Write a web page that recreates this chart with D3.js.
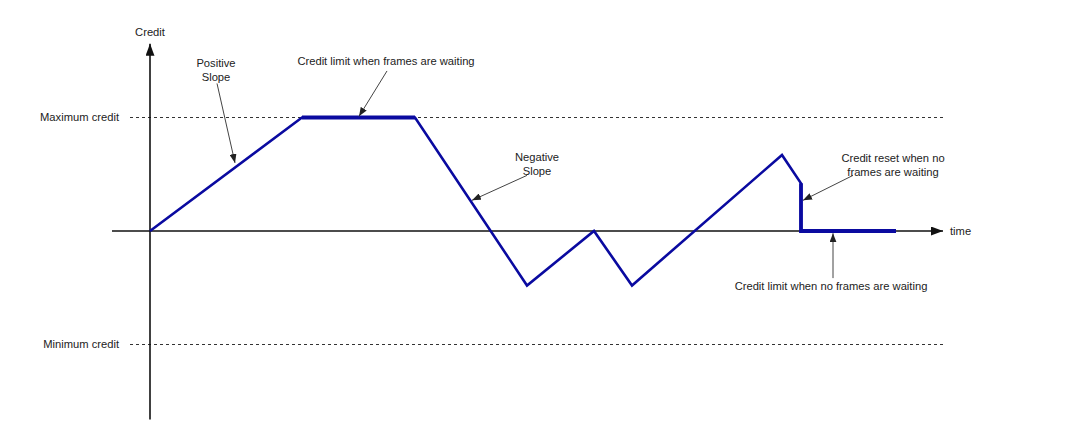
<!DOCTYPE html>
<html><head><meta charset="utf-8">
<script src="https://cdn.jsdelivr.net/npm/d3@7"></script>
<style>
html,body{margin:0;padding:0;background:#fff;}
text{font-family:"Liberation Sans",Arial,sans-serif;font-size:11.2px;fill:#222;}
</style></head>
<body>
<svg id="chart" width="1080" height="433"></svg>
<script>
// ---- data ----
const timePoints   = [0, 152, 265, 377, 444, 482, 632, 651, 651, 746];
const creditPoints = [0, 1, 1, -0.48, 0, -0.48, 0.67, 0.42, 0, 0];
// segments drawn thicker (index ranges into the points)
const thickSegments = [[1, 2], [7, 9]];
const levelValues = [1, -1];
const levelLabels = ["Maximum credit", "Minimum credit"];
const axisLabels = ["Credit", "time"];
const annotationTexts = [
  ["Positive", "Slope"],
  ["Credit limit when frames are waiting"],
  ["Negative", "Slope"],
  ["Credit reset when no", "frames are waiting"],
  ["Credit limit when no frames are waiting"]
];
// text centre [t, credit], arrow start [t, credit], arrow tip [t, credit]
const annotationText  = [[66, 1.418], [236, 1.498], [387, 0.586], [743, 0.581], [681, -0.485]];
const annotationFrom  = [[67, 1.30], [237, 1.41], [377, 0.49], [703, 0.49], [683, -0.415]];
const annotationTo    = [[85, 0.60], [209, 1.01], [322, 0.27], [653, 0.27], [683, -0.02]];

// ---- scales ----
const x = d3.scaleLinear().domain([0, 800]).range([150, 950]);
const y = d3.scaleLinear().domain([-1, 1]).range([344.5, 117.5]);

const svg = d3.select("#chart");
const defs = svg.append("defs");
function marker(id, w, h, color) {
  defs.append("marker").attr("id", id)
    .attr("viewBox", `0 0 ${w} ${h}`).attr("refX", w).attr("refY", h / 2)
    .attr("markerWidth", w).attr("markerHeight", h)
    .attr("markerUnits", "userSpaceOnUse").attr("orient", "auto")
    .append("path").attr("d", `M0,0L${w},${h/2}L0,${h}Z`).attr("fill", color);
}
marker("axisArrow", 12, 9, "#111");
marker("noteArrow", 9, 7, "#222");

// dashed level lines
levelValues.forEach((v, i) => {
  svg.append("line").attr("x1", x(-20)).attr("x2", x(793))
    .attr("y1", y(v)).attr("y2", y(v))
    .attr("stroke", "#333").attr("stroke-width", 1).attr("stroke-dasharray", "3,3");
  svg.append("text").attr("x", x(-31)).attr("y", y(v)).attr("dy", "0.35em")
    .attr("text-anchor", "end").text(levelLabels[i]);
});

// axes
svg.append("line").attr("x1", x(-38)).attr("x2", x(793)).attr("y1", y(0)).attr("y2", y(0))
  .attr("stroke", "#111").attr("stroke-width", 1.6).attr("marker-end", "url(#axisArrow)");
svg.append("line").attr("x1", x(0)).attr("x2", x(0)).attr("y1", y(-1.66)).attr("y2", y(1.65))
  .attr("stroke", "#111").attr("stroke-width", 1.6).attr("marker-end", "url(#axisArrow)");
svg.append("text").attr("x", x(0)).attr("y", y(1.753)).attr("dy", "0.35em")
  .attr("text-anchor", "middle").text(axisLabels[0]);
svg.append("text").attr("x", x(800)).attr("y", y(0)).attr("dy", "0.35em").text(axisLabels[1]);

// credit line
const pts = timePoints.map((t, i) => [t, creditPoints[i]]);
const line = d3.line().x(d => x(d[0])).y(d => y(d[1]));
svg.append("path").datum(pts).attr("d", line)
  .attr("fill", "none").attr("stroke", "#0a0aa0").attr("stroke-width", 2.6)
  .attr("stroke-linejoin", "miter");
thickSegments.forEach(([a, b]) => {
  svg.append("path").datum(pts.slice(a, b + 1)).attr("d", line)
    .attr("fill", "none").attr("stroke", "#0a0aa0").attr("stroke-width", 3.8)
    .attr("stroke-linejoin", "miter");
});

// annotations
const lineGap = 14;
annotationTexts.forEach((lines, i) => {
  svg.append("line")
    .attr("x1", x(annotationFrom[i][0])).attr("y1", y(annotationFrom[i][1]))
    .attr("x2", x(annotationTo[i][0])).attr("y2", y(annotationTo[i][1]))
    .attr("stroke", "#444").attr("stroke-width", 1).attr("marker-end", "url(#noteArrow)");
  const cy = y(annotationText[i][1]) - (lines.length - 1) * lineGap / 2;
  lines.forEach((s, j) => {
    svg.append("text").attr("text-anchor", "middle")
      .attr("x", x(annotationText[i][0])).attr("y", cy + j * lineGap)
      .attr("dy", "0.35em").text(s);
  });
});
</script>
</body></html>
